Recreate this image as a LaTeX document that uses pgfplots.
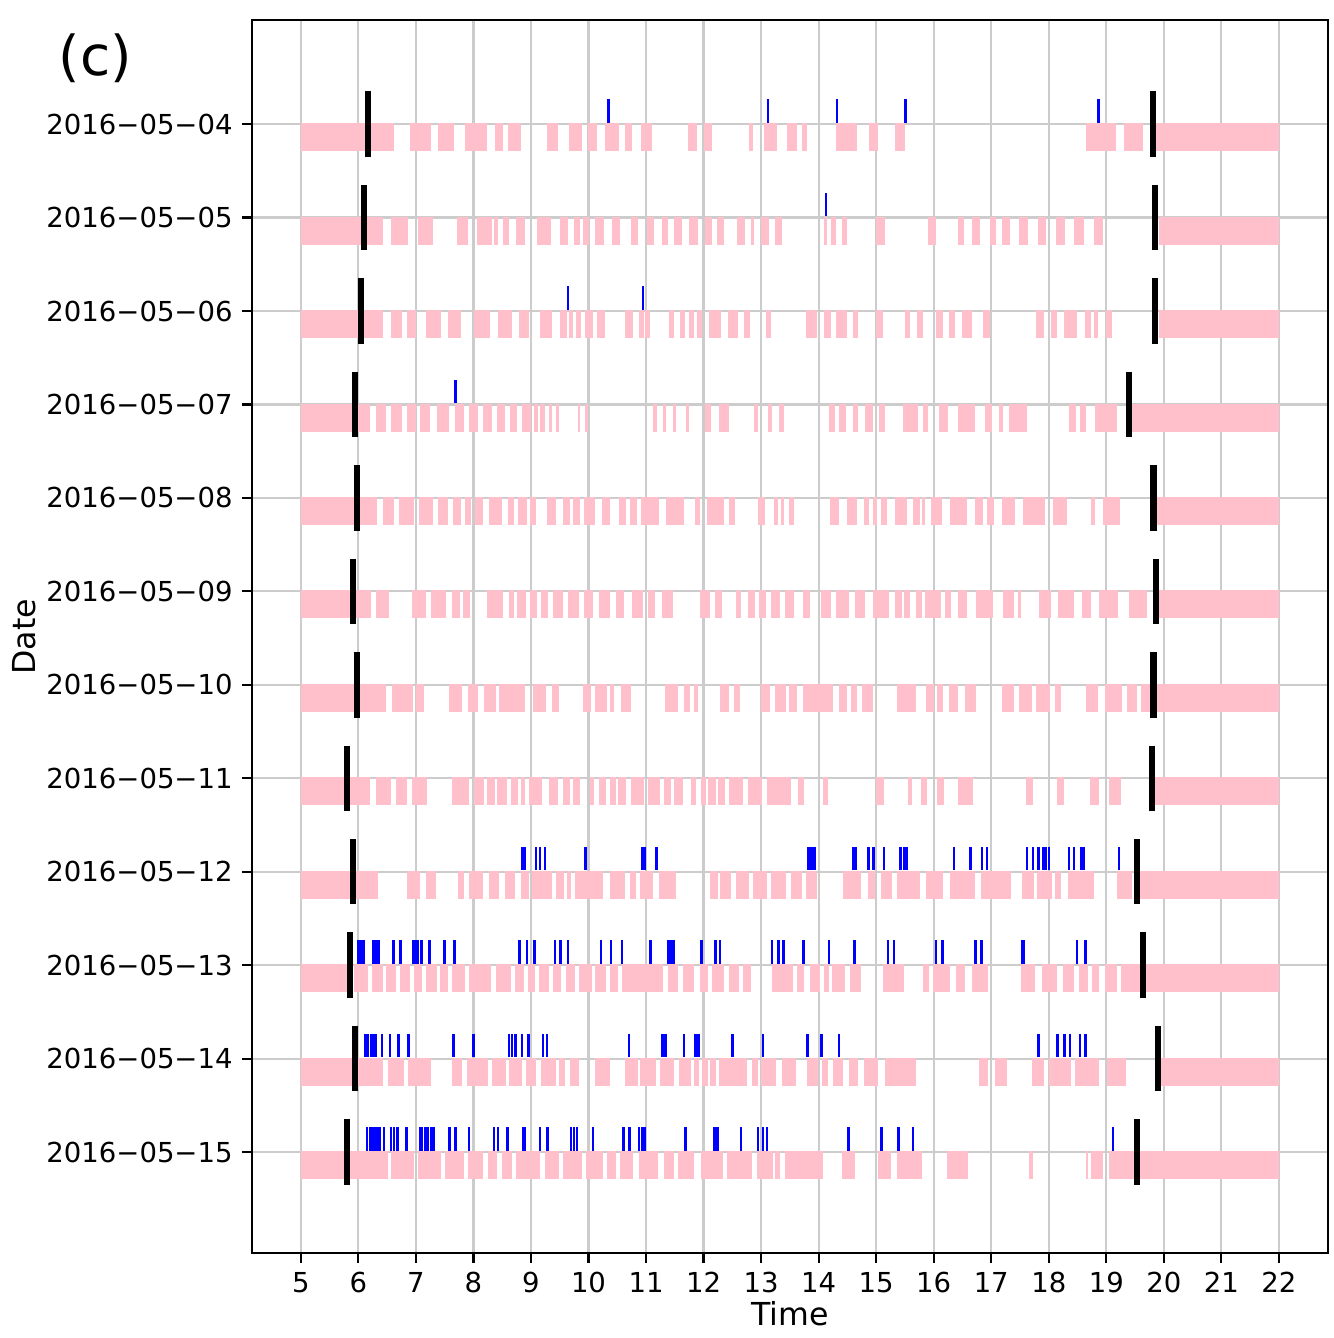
\documentclass[border=0pt]{standalone}
\usepackage{fontspec}
\setmainfont{DejaVu Sans}
\usepackage{pgfplots}
\usepackage{pgfplotstable}
\pgfplotsset{compat=1.18}
\definecolor{pinkc}{HTML}{FFC0CB}
\definecolor{gridc}{HTML}{CCCCCC}

% pink activity intervals: start, end, row position (day index + 0.14)
\pgfplotstableread{
s e y
5.00 6.62 0.14
6.89 7.27 0.14
7.38 7.66 0.14
7.86 8.24 0.14
8.38 8.51 0.14
8.60 8.82 0.14
9.28 9.47 0.14
9.66 9.88 0.14
9.99 10.14 0.14
10.29 10.53 0.14
10.63 10.76 0.14
10.91 11.10 0.14
11.73 11.88 0.14
12.00 12.15 0.14
12.79 12.86 0.14
13.05 13.28 0.14
13.45 13.62 0.14
13.71 13.79 0.14
14.30 14.67 0.14
14.87 15.04 0.14
15.33 15.50 0.14
18.64 19.17 0.14
19.31 19.64 0.14
19.80 22.00 0.14
5.00 6.42 1.14
6.56 6.87 1.14
7.03 7.30 1.14
7.72 7.90 1.14
8.06 8.32 1.14
8.35 8.43 1.14
8.51 8.61 1.14
8.74 8.90 1.14
9.10 9.34 1.14
9.51 9.65 1.14
9.75 9.86 1.14
9.91 10.01 1.14
10.12 10.27 1.14
10.41 10.55 1.14
10.73 10.86 1.14
11.01 11.14 1.14
11.27 11.39 1.14
11.49 11.62 1.14
11.75 11.90 1.14
12.02 12.14 1.14
12.24 12.36 1.14
12.58 12.72 1.14
12.83 12.88 1.14
12.99 13.14 1.14
13.25 13.36 1.14
14.09 14.14 1.14
14.21 14.30 1.14
14.40 14.49 1.14
15.00 15.15 1.14
15.90 16.04 1.14
16.43 16.52 1.14
16.66 16.80 1.14
16.98 17.08 1.14
17.19 17.32 1.14
17.49 17.64 1.14
17.81 17.96 1.14
18.12 18.28 1.14
18.43 18.61 1.14
18.79 18.95 1.14
19.92 22.00 1.14
5.00 6.43 2.14
6.57 6.76 2.14
6.85 7.01 2.14
7.18 7.43 2.14
7.56 7.78 2.14
8.01 8.28 2.14
8.43 8.67 2.14
8.79 8.96 2.14
9.16 9.37 2.14
9.51 9.62 2.14
9.66 9.73 2.14
9.78 9.87 2.14
9.94 10.07 2.14
10.14 10.28 2.14
10.64 10.78 2.14
10.87 10.96 2.14
10.98 11.07 2.14
11.40 11.49 2.14
11.59 11.67 2.14
11.75 11.84 2.14
11.88 11.98 2.14
12.09 12.31 2.14
12.43 12.59 2.14
12.70 12.80 2.14
13.09 13.17 2.14
13.78 13.98 2.14
14.09 14.21 2.14
14.30 14.49 2.14
14.60 14.69 2.14
15.00 15.11 2.14
15.50 15.59 2.14
15.71 15.81 2.14
16.04 16.16 2.14
16.26 16.37 2.14
16.50 16.66 2.14
16.85 16.98 2.14
17.77 17.92 2.14
18.04 18.15 2.14
18.27 18.49 2.14
18.63 18.73 2.14
18.79 18.86 2.14
18.99 19.10 2.14
19.92 22.00 2.14
5.00 5.94 3.14
5.98 6.21 3.14
6.31 6.48 3.14
6.56 6.75 3.14
6.85 7.00 3.14
7.08 7.25 3.14
7.36 7.58 3.14
7.68 7.83 3.14
7.92 8.08 3.14
8.17 8.32 3.14
8.41 8.54 3.14
8.63 8.75 3.14
8.85 9.00 3.14
9.06 9.12 3.14
9.16 9.24 3.14
9.31 9.37 3.14
9.43 9.49 3.14
9.82 9.86 3.14
9.94 9.99 3.14
11.12 11.19 3.14
11.29 11.34 3.14
11.46 11.52 3.14
11.70 11.75 3.14
12.02 12.13 3.14
12.27 12.45 3.14
12.87 12.94 3.14
13.12 13.19 3.14
13.31 13.40 3.14
14.18 14.29 3.14
14.36 14.47 3.14
14.60 14.69 3.14
14.81 14.94 3.14
15.05 15.16 3.14
15.47 15.73 3.14
15.81 15.90 3.14
16.09 16.24 3.14
16.42 16.71 3.14
16.89 17.01 3.14
17.14 17.21 3.14
17.31 17.62 3.14
18.35 18.47 3.14
18.55 18.64 3.14
18.80 19.19 3.14
19.42 22.00 3.14
5.00 6.32 4.14
6.42 6.62 4.14
6.70 6.97 4.14
7.05 7.29 4.14
7.39 7.56 4.14
7.65 7.79 4.14
7.86 7.96 4.14
8.02 8.17 4.14
8.27 8.50 4.14
8.60 8.71 4.14
8.77 8.93 4.14
8.98 9.09 4.14
9.28 9.43 4.14
9.55 9.67 4.14
9.73 9.85 4.14
9.93 10.11 4.14
10.24 10.37 4.14
10.53 10.66 4.14
10.72 10.84 4.14
10.91 11.22 4.14
11.34 11.66 4.14
11.85 11.94 4.14
12.06 12.35 4.14
12.44 12.54 4.14
12.95 13.06 4.14
13.22 13.30 4.14
13.34 13.39 4.14
13.48 13.57 4.14
14.19 14.35 4.14
14.50 14.66 4.14
14.78 14.87 4.14
14.95 15.02 4.14
15.08 15.19 4.14
15.33 15.53 4.14
15.64 15.76 4.14
15.79 15.85 4.14
15.95 16.15 4.14
16.28 16.57 4.14
16.71 16.85 4.14
16.92 17.05 4.14
17.19 17.41 4.14
17.56 17.93 4.14
18.07 18.32 4.14
18.74 18.81 4.14
18.94 19.23 4.14
19.83 22.00 4.14
5.00 6.22 5.14
6.30 6.53 5.14
6.94 7.17 5.14
7.26 7.53 5.14
7.62 7.76 5.14
7.82 7.94 5.14
8.24 8.51 5.14
8.61 8.70 5.14
8.76 8.92 5.14
8.98 9.11 5.14
9.18 9.29 5.14
9.39 9.56 5.14
9.65 9.84 5.14
9.93 10.08 5.14
10.19 10.37 5.14
10.47 10.61 5.14
10.76 10.95 5.14
11.04 11.15 5.14
11.27 11.46 5.14
11.93 12.12 5.14
12.19 12.32 5.14
12.57 12.65 5.14
12.77 12.89 5.14
12.96 13.08 5.14
13.18 13.33 5.14
13.41 13.57 5.14
13.73 13.85 5.14
14.04 14.21 5.14
14.31 14.53 5.14
14.64 14.80 5.14
14.95 15.22 5.14
15.32 15.45 5.14
15.49 15.58 5.14
15.69 15.79 5.14
15.84 16.13 5.14
16.20 16.30 5.14
16.42 16.58 5.14
16.73 17.03 5.14
17.21 17.40 5.14
17.46 17.51 5.14
17.83 18.03 5.14
18.16 18.43 5.14
18.57 18.73 5.14
18.87 19.21 5.14
19.40 19.70 5.14
19.92 22.00 5.14
5.00 6.48 6.14
6.59 6.95 6.14
7.00 7.14 6.14
7.58 7.81 6.14
7.90 8.08 6.14
8.18 8.39 6.14
8.45 8.90 6.14
9.04 9.26 6.14
9.36 9.49 6.14
9.91 10.04 6.14
10.12 10.32 6.14
10.37 10.45 6.14
10.56 10.74 6.14
11.33 11.55 6.14
11.66 11.76 6.14
11.84 11.91 6.14
12.29 12.44 6.14
12.53 12.63 6.14
13.00 13.16 6.14
13.25 13.43 6.14
13.49 13.63 6.14
13.72 14.25 6.14
14.36 14.50 6.14
14.56 14.66 6.14
14.76 14.94 6.14
15.36 15.69 6.14
15.86 16.00 6.14
16.05 16.16 6.14
16.26 16.43 6.14
16.54 16.74 6.14
17.19 17.40 6.14
17.49 17.70 6.14
17.78 18.02 6.14
18.11 18.22 6.14
18.65 18.86 6.14
18.97 19.28 6.14
19.36 19.53 6.14
19.61 22.00 6.14
5.00 6.21 7.14
6.30 6.57 7.14
6.65 6.85 7.14
6.94 7.19 7.14
7.62 7.92 7.14
8.01 8.18 7.14
8.23 8.38 7.14
8.41 8.58 7.14
8.65 8.77 7.14
8.82 8.90 7.14
8.97 9.20 7.14
9.32 9.47 7.14
9.56 9.67 7.14
9.73 9.86 7.14
10.03 10.09 7.14
10.19 10.31 7.14
10.38 10.47 7.14
10.51 10.66 7.14
10.74 10.96 7.14
11.04 11.25 7.14
11.32 11.44 7.14
11.49 11.65 7.14
11.79 11.86 7.14
11.95 12.04 7.14
12.08 12.21 7.14
12.25 12.37 7.14
12.45 12.68 7.14
12.78 13.01 7.14
13.10 13.52 7.14
13.64 13.74 7.14
14.08 14.17 7.14
15.00 15.14 7.14
15.56 15.63 7.14
15.78 15.88 7.14
16.05 16.18 7.14
16.42 16.68 7.14
17.60 17.72 7.14
18.14 18.27 7.14
18.72 18.88 7.14
19.05 19.26 7.14
19.81 22.00 7.14
5.00 6.34 8.14
6.84 7.07 8.14
7.17 7.35 8.14
7.73 7.83 8.14
7.92 8.16 8.14
8.27 8.44 8.14
8.54 8.73 8.14
8.82 8.97 8.14
9.01 9.37 8.14
9.43 9.57 8.14
9.63 9.70 8.14
9.76 10.26 8.14
10.38 10.64 8.14
10.72 10.82 8.14
10.89 11.12 8.14
11.23 11.52 8.14
12.11 12.25 8.14
12.28 12.47 8.14
12.57 12.79 8.14
12.86 13.11 8.14
13.17 13.43 8.14
13.52 13.71 8.14
13.78 13.98 8.14
14.43 14.74 8.14
14.85 14.98 8.14
15.08 15.27 8.14
15.37 15.77 8.14
15.87 16.17 8.14
16.28 16.71 8.14
16.82 17.34 8.14
17.53 17.74 8.14
17.79 18.05 8.14
18.11 18.22 8.14
18.33 18.79 8.14
19.19 19.45 8.14
19.53 22.00 8.14
5.00 5.87 9.14
5.93 6.16 9.14
6.23 6.43 9.14
6.48 6.66 9.14
6.73 6.89 9.14
6.96 7.11 9.14
7.18 7.36 9.14
7.42 7.56 9.14
7.63 7.86 9.14
7.93 8.30 9.14
8.39 8.65 9.14
8.72 8.88 9.14
8.94 9.07 9.14
9.14 9.32 9.14
9.38 9.53 9.14
9.61 9.77 9.14
9.84 10.06 9.14
10.12 10.30 9.14
10.37 10.51 9.14
10.58 11.29 9.14
11.38 11.55 9.14
11.64 11.83 9.14
11.93 12.08 9.14
12.15 12.36 9.14
12.45 12.61 9.14
12.69 12.82 9.14
13.19 13.56 9.14
13.62 13.74 9.14
13.85 14.02 9.14
14.10 14.18 9.14
14.24 14.46 9.14
14.55 14.73 9.14
15.12 15.49 9.14
15.81 15.91 9.14
15.99 16.28 9.14
16.38 16.55 9.14
16.66 16.94 9.14
17.51 17.76 9.14
17.89 18.14 9.14
18.25 18.44 9.14
18.53 18.68 9.14
18.75 18.88 9.14
18.97 19.18 9.14
19.25 22.00 9.14
5.00 5.93 10.14
5.99 6.43 10.14
6.52 6.80 10.14
6.87 7.26 10.14
7.62 7.80 10.14
7.89 8.25 10.14
8.32 8.56 10.14
8.61 8.85 10.14
8.92 9.09 10.14
9.18 9.43 10.14
9.48 9.60 10.14
9.68 9.83 10.14
10.11 10.38 10.14
10.63 10.86 10.14
10.90 11.18 10.14
11.25 11.48 10.14
11.57 11.79 10.14
11.84 11.92 10.14
11.97 12.07 10.14
12.11 12.22 10.14
12.27 12.75 10.14
12.85 12.95 10.14
12.99 13.26 10.14
13.36 13.61 10.14
13.79 13.99 10.14
14.06 14.17 10.14
14.25 14.43 10.14
14.53 14.68 10.14
14.78 15.04 10.14
15.15 15.69 10.14
16.79 16.95 10.14
17.06 17.27 10.14
17.70 17.91 10.14
18.01 18.38 10.14
18.46 18.88 10.14
19.01 19.35 10.14
19.95 22.00 10.14
5.00 6.52 11.14
6.57 6.96 11.14
7.04 7.43 11.14
7.50 7.83 11.14
7.90 8.17 11.14
8.25 8.41 11.14
8.50 8.67 11.14
8.74 9.15 11.14
9.24 9.48 11.14
9.55 9.88 11.14
9.96 10.25 11.14
10.32 10.48 11.14
10.55 10.78 11.14
10.87 11.21 11.14
11.31 11.48 11.14
11.55 11.83 11.14
11.95 12.34 11.14
12.40 12.85 11.14
12.93 13.21 11.14
13.25 13.33 11.14
13.41 14.08 11.14
14.41 14.63 11.14
15.03 15.25 11.14
15.36 15.79 11.14
16.23 16.59 11.14
17.66 17.73 11.14
18.65 18.69 11.14
18.74 18.95 11.14
19.05 22.00 11.14
}\pinkdata

% blue event ticks: time, row position (day index - 0.14)
\pgfplotstableread{
x y
10.35 -0.14
13.12 -0.14
14.32 -0.14
15.51 -0.14
18.86 -0.14
14.13 0.86
9.64 1.86
10.95 1.86
7.69 2.86
8.85 7.86
8.87 7.86
8.89 7.86
9.09 7.86
9.16 7.86
9.24 7.86
9.95 7.86
10.93 7.86
10.95 7.86
10.98 7.86
11.18 7.86
13.82 7.86
13.85 7.86
13.89 7.86
13.93 7.86
14.60 7.86
14.64 7.86
14.87 7.86
14.95 7.86
15.14 7.86
15.42 7.86
15.49 7.86
15.54 7.86
16.35 7.86
16.64 7.86
16.84 7.86
16.93 7.86
17.62 7.86
17.73 7.86
17.82 7.86
17.90 7.86
17.94 7.86
18.00 7.86
18.35 7.86
18.44 7.86
18.56 7.86
18.60 7.86
19.22 7.86
5.99 8.86
6.02 8.86
6.05 8.86
6.09 8.86
6.26 8.86
6.30 8.86
6.33 8.86
6.36 8.86
6.61 8.86
6.73 8.86
6.96 8.86
6.99 8.86
7.04 8.86
7.10 8.86
7.24 8.86
7.50 8.86
7.67 8.86
8.80 8.86
8.93 8.86
9.06 8.86
9.42 8.86
9.51 8.86
9.64 8.86
10.22 8.86
10.39 8.86
10.58 8.86
11.08 8.86
11.39 8.86
11.43 8.86
11.48 8.86
11.96 8.86
12.21 8.86
12.29 8.86
13.19 8.86
13.30 8.86
13.39 8.86
13.74 8.86
14.18 8.86
14.62 8.86
15.21 8.86
15.31 8.86
16.04 8.86
16.15 8.86
16.73 8.86
16.83 8.86
17.53 8.86
17.57 8.86
18.49 8.86
18.64 8.86
6.12 9.86
6.17 9.86
6.22 9.86
6.26 9.86
6.31 9.86
6.41 9.86
6.55 9.86
6.70 9.86
6.87 9.86
7.65 9.86
8.00 9.86
8.62 9.86
8.67 9.86
8.73 9.86
8.84 9.86
8.96 9.86
9.21 9.86
9.28 9.86
10.70 9.86
11.29 9.86
11.34 9.86
11.66 9.86
11.86 9.86
11.91 9.86
12.50 9.86
13.03 9.86
13.81 9.86
14.05 9.86
14.35 9.86
17.82 9.86
18.15 9.86
18.27 9.86
18.37 9.86
18.54 9.86
18.64 9.86
5.83 10.86
6.15 10.86
6.20 10.86
6.24 10.86
6.28 10.86
6.33 10.86
6.37 10.86
6.45 10.86
6.57 10.86
6.62 10.86
6.67 10.86
6.69 10.86
6.84 10.86
7.07 10.86
7.11 10.86
7.16 10.86
7.20 10.86
7.26 10.86
7.31 10.86
7.58 10.86
7.69 10.86
7.92 10.86
8.36 10.86
8.43 10.86
8.59 10.86
8.86 10.86
8.90 10.86
9.16 10.86
9.29 10.86
9.70 10.86
9.75 10.86
9.80 10.86
10.08 10.86
10.61 10.86
10.71 10.86
10.88 10.86
10.93 10.86
10.97 10.86
11.69 10.86
12.19 10.86
12.24 10.86
12.65 10.86
12.95 10.86
13.03 10.86
13.10 10.86
14.52 10.86
15.09 10.86
15.39 10.86
15.64 10.86
19.12 10.86
}\bluedata

% black bars (sunrise / sunset): time, day index
\pgfplotstableread{
x y
6.17 0
19.81 0
6.09 1
19.85 1
6.04 2
19.85 2
5.94 3
19.39 3
5.98 4
19.82 4
5.91 5
19.87 5
5.97 6
19.82 6
5.80 7
19.80 7
5.91 8
19.54 8
5.85 9
19.63 9
5.94 10
19.90 10
5.80 11
19.53 11
}\blackdata

\begin{document}
\begin{tikzpicture}
\begin{axis}[
  scale only axis,
  width=391.2pt, height=448.3pt,
  xmin=4.15, xmax=22.85,
  ymin=-1.113, ymax=12.08,
  y dir=reverse,
  xtick={5,6,...,22},
  ytick={0,1,...,11},
  yticklabels={2016−05−04,2016−05−05,2016−05−06,2016−05−07,2016−05−08,2016−05−09,2016−05−10,2016−05−11,2016−05−12,2016−05−13,2016−05−14,2016−05−15},
  tick pos=left,
  tick align=outside,
  major tick length=3.5pt,
  tick style={line width=0.8pt, black},
  grid=major,
  grid style={gridc, line width=0.8pt},
  axis line style={line width=0.8pt},
  /pgf/number format/assume math mode=true,
  ticklabel style={font=\fontsize{10}{12}\selectfont},
  label style={font=\fontsize{11.5}{14}\selectfont},
  xlabel={Time}, ylabel={Date},
  xlabel style={yshift=4pt},
  ylabel style={yshift=-3pt},
]
\addplot[pinkc, line width=10.2pt, quiver={u={\thisrow{e}-\thisrow{s}}, v=0}] table[x=s, y=y] {\pinkdata};
\addplot[blue, only marks, mark=|, mark size=4.25pt, mark options={line width=0.9pt}] table[x=x, y=y] {\bluedata};
\addplot[black, only marks, mark=|, mark size=11.9pt, mark options={line width=2.2pt}] table[x=x, y=y] {\blackdata};
\end{axis}
\node[anchor=base west, inner sep=0pt, font=\fontsize{20}{24}\selectfont, xshift=-70.5pt, yshift=-20pt] at (current axis.north west) {(c)};
\path ([xshift=-91.6pt,yshift=-30.9pt]current axis.south west) rectangle ([xshift=2.2pt,yshift=7.3pt]current axis.north east);
\end{tikzpicture}
\end{document}
